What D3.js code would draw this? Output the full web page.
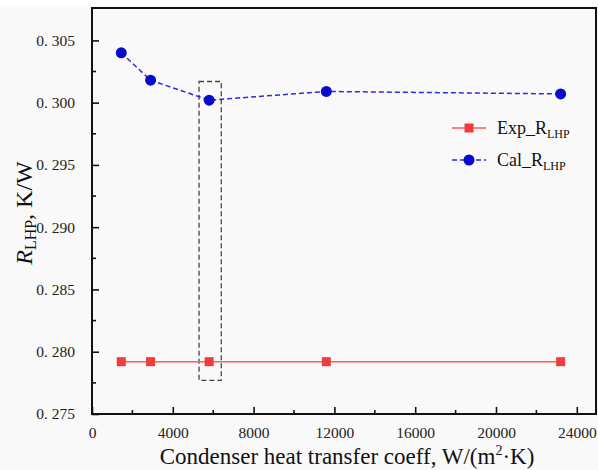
<!DOCTYPE html>
<html>
<head>
<meta charset="utf-8">
<script src="https://cdn.jsdelivr.net/npm/d3@7"></script>
<style>
  html, body { margin: 0; padding: 0; background: #ffffff; }
  svg { display: block; }
</style>
</head>
<body>
<svg id="chart" width="598" height="470"></svg>
<script>
// Condenser heat transfer coefficient, W/(m²·K)
const coeff = [1450, 2900, 5800, 11600, 23200];
// Measured loop heat pipe thermal resistance, K/W
const expR = [0.2792, 0.2792, 0.2792, 0.2792, 0.2792];
// Calculated loop heat pipe thermal resistance, K/W
const calR = [0.3040, 0.3018, 0.3002, 0.3009, 0.3007];

const xTicks = [0, 4000, 8000, 12000, 16000, 20000, 24000];
const yTicks = [0.275, 0.280, 0.285, 0.290, 0.295, 0.300, 0.305];
const xMinor = [2000, 6000, 10000, 14000, 18000, 22000];
const yMinor = [0.2775, 0.2825, 0.2875, 0.2925, 0.2975, 0.3025];

// Highlighted operating point (dashed box)
const boxX = [5300, 6400];
const boxY = [0.2777, 0.3017];

const mLeft = 92, mRight = 597, mTop = 8, mBottom = 414;
const serif = "'Liberation Serif'";

const svg = d3.select("#chart");
svg.append("rect").attr("x", 0).attr("y", 6).attr("width", 598).attr("height", 464).attr("fill", "#f9f9f9");

const x = d3.scaleLinear().domain([0, 25000]).range([mLeft, mRight]);
const y = d3.scaleLinear().domain([0.275, 0.3076]).range([mBottom, mTop]);

// Axes with inward ticks
const xAxis = d3.axisBottom(x).tickValues(xTicks).tickSize(-7).tickPadding(13).tickFormat(d3.format("d"));
const yAxis = d3.axisLeft(y).tickValues(yTicks).tickSize(-7).tickPadding(17)
  .tickFormat(d => d3.format(".3f")(d).replace(".", ". "));

const gx = svg.append("g").attr("transform", `translate(0,${mBottom})`).call(xAxis);
const gy = svg.append("g").attr("transform", `translate(${mLeft},0)`).call(yAxis);
[gx, gy].forEach(g => {
  g.attr("font-family", null).attr("font-size", null);
  g.select(".domain").remove();
  g.selectAll(".tick line").attr("stroke", "#111").attr("stroke-width", 1.6);
  g.selectAll(".tick text").style("font-size", "15.5px").style("fill", "#222")
    .style("font-family", serif);
});

// Minor ticks
svg.append("g").selectAll("line").data(xMinor).join("line")
  .attr("x1", d => x(d)).attr("x2", d => x(d))
  .attr("y1", mBottom).attr("y2", mBottom - 4)
  .attr("stroke", "#111").attr("stroke-width", 1.6);
svg.append("g").selectAll("line").data(yMinor).join("line")
  .attr("x1", mLeft).attr("x2", mLeft + 4)
  .attr("y1", d => y(d)).attr("y2", d => y(d))
  .attr("stroke", "#111").attr("stroke-width", 1.6);

// Frame
svg.append("rect")
  .attr("x", mLeft).attr("y", mTop)
  .attr("width", x(25000) - mLeft - 1).attr("height", mBottom - mTop)
  .attr("fill", "none").attr("stroke", "#111").attr("stroke-width", 2);

// Dashed highlight box
svg.append("rect")
  .attr("x", x(boxX[0])).attr("y", y(boxY[1]))
  .attr("width", x(boxX[1]) - x(boxX[0]))
  .attr("height", y(boxY[0]) - y(boxY[1]))
  .attr("fill", "none").attr("stroke", "#444").attr("stroke-width", 1.3)
  .attr("stroke-dasharray", "5,3");

const line = d3.line().x(d => x(d[0])).y(d => y(d[1]));
const expPts = coeff.map((c, i) => [c, expR[i]]);
const calPts = coeff.map((c, i) => [c, calR[i]]);

// Experimental series
svg.append("path").datum(expPts).attr("d", line)
  .attr("fill", "none").attr("stroke", "#ff5a5a").attr("stroke-width", 1.5);
svg.append("g").selectAll("rect").data(expPts).join("rect")
  .attr("x", d => x(d[0]) - 4.5).attr("y", d => y(d[1]) - 4.5)
  .attr("width", 9).attr("height", 9).attr("fill", "#f03c3c");

// Calculated series
svg.append("path").datum(calPts).attr("d", line)
  .attr("fill", "none").attr("stroke", "#2a2ae6").attr("stroke-width", 1.5)
  .attr("stroke-dasharray", "5,3");
svg.append("g").selectAll("circle").data(calPts).join("circle")
  .attr("cx", d => x(d[0])).attr("cy", d => y(d[1])).attr("r", 5.5)
  .attr("fill", "#0a0acc");

// Legend
const leg = svg.append("g");
const legY = [128, 160];
leg.append("line").attr("x1", 452).attr("x2", 486).attr("y1", legY[0]).attr("y2", legY[0])
  .attr("stroke", "#ff5a5a").attr("stroke-width", 1.5);
leg.append("rect").attr("x", 469 - 4.5).attr("y", legY[0] - 4.5).attr("width", 9).attr("height", 9)
  .attr("fill", "#f03c3c");
leg.append("line").attr("x1", 452).attr("x2", 486).attr("y1", legY[1]).attr("y2", legY[1])
  .attr("stroke", "#2a2ae6").attr("stroke-width", 1.5).attr("stroke-dasharray", "5,3");
leg.append("circle").attr("cx", 469).attr("cy", legY[1]).attr("r", 5.5).attr("fill", "#0a0acc");

const legNames = ["Exp_R", "Cal_R"];
legNames.forEach((n, i) => {
  const t = leg.append("text").attr("x", 497).attr("y", legY[i] + 6)
    .style("font-family", serif).style("font-size", "18px").style("fill", "#111");
  t.append("tspan").text(n);
  t.append("tspan").style("font-size", "12px").attr("dy", 4).text("LHP");
});

// Axis titles
const xt = svg.append("text").attr("x", 347).attr("y", 464).attr("text-anchor", "middle")
  .style("font-family", serif).style("font-size", "23px").style("fill", "#111");
xt.append("tspan").text("Condenser heat transfer coeff, W/(m");
xt.append("tspan").style("font-size", "14px").attr("dy", -9).text("2");
xt.append("tspan").attr("dy", 9).text("·K)");

const yt = svg.append("text")
  .attr("transform", `translate(32,213) rotate(-90)`)
  .attr("text-anchor", "middle")
  .style("font-family", serif).style("font-size", "24px").style("fill", "#111");
yt.append("tspan").style("font-style", "italic").text("R");
yt.append("tspan").style("font-size", "16px").attr("dy", 4).text("LHP");
yt.append("tspan").attr("dy", -4).text(", K/W");
</script>
</body>
</html>
